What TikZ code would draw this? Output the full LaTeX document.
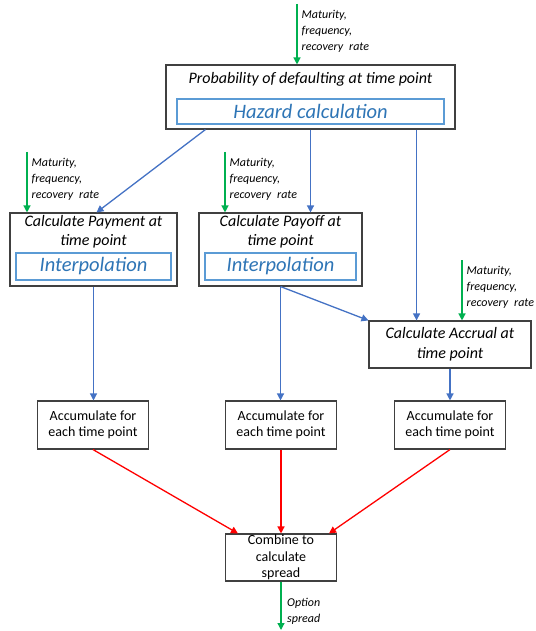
\documentclass[tikz,border=0pt]{standalone}
\usepackage{fontspec}
\setmainfont{Carlito}
\usepackage{tikz}
\usetikzlibrary{arrows.meta,positioning,calc}
\definecolor{cFlow}{HTML}{4472C4}
\definecolor{cIn}  {HTML}{00B050}
\definecolor{cSum} {HTML}{FF0000}
\definecolor{cSub} {HTML}{5B9BD5}
\definecolor{cSubT}{HTML}{2E75B6}
\definecolor{cEdge}{HTML}{404040}
\tikzset{
  box/.style ={draw=cEdge,line width=1.1pt,fill=white,align=center,inner sep=0pt},
  sub/.style ={draw=cSub,line width=1.1pt,inner sep=0pt,text=cSubT,
               font=\fontsize{20.5}{24}\selectfont\itshape},
  ttl/.style ={align=center,inner sep=0pt,font=\fontsize{16}{19}\selectfont\itshape},
  acc/.style ={box,minimum width=111pt,minimum height=48pt,
               font=\fontsize{14}{16.5}\selectfont},
  flow/.style={-{Triangle[length=7pt,width=7pt]},draw=cFlow,line width=1.3pt},
  feed/.style={flow,draw=cIn},
  sum/.style ={flow,draw=cSum},
  note/.style={font=\fontsize{12}{16}\selectfont\itshape,align=left,
               inner sep=0pt,anchor=north west},
}

\begin{document}
\begin{tikzpicture}[x=1pt,y=1pt]
\useasboundingbox (0,0) rectangle (535,-631);

% green model inputs: a short drop into the box, three-line note beside it
\newcommand{\feedin}[4]{%
  \coordinate (#1) at (#2,#3);
  \draw[feed] (#1) -- (#1 |- #4.north);
  \node[note] at ($(#1)+(4.5,-6)$) {Maturity,\\frequency,\\recovery\enspace rate};}

% calculation box with an interpolation sub-box inside
\newcommand{\calcbox}[4]{%
  \node[box,minimum width=#3,minimum height=73pt] (#1) at (#2,-249.5) {};
  \node[ttl] (#1T) at (#2,-231.5) {#4};
  \node[sub,minimum width=#3-12pt,minimum height=27pt] (#1I) at (#2,-266.5)
    {Interpolation};}

% ===== hazard block ======================================================
\node[box,minimum width=289pt,minimum height=64pt] (prob) at (310.5,-97) {};
\node[ttl] (probT) at (310.5,-79) {Probability of defaulting at time point};
\node[sub,minimum width=267pt,minimum height=25pt] (haz) at (310.5,-111.5)
  {Hazard calculation};
\feedin{in0}{297}{-4}{prob}

% ===== payment / payoff / accrual ========================================
\calcbox{pay}{93.5}{167pt}{Calculate Payment at\\time point}
\calcbox{payoff}{280.5}{163pt}{Calculate Payoff at\\time point}
\node[box,minimum width=162pt,minimum height=47pt,
      font=\fontsize{16}{20}\selectfont\itshape] (accr) at (450,-344.5)
  {Calculate Accrual at\\time point};

\feedin{in1}{27}{-152}{pay}
\feedin{in2}{225}{-152}{payoff}
\feedin{in3}{462}{-260}{accr}

\draw[flow] ([xshift=40pt]prob.south west) -- ([xshift=3pt]pay.north);
\draw[flow] (prob.south) -- (prob.south |- payoff.north);
\draw[flow] ([xshift=-39pt]prob.south east) -- ([xshift=-39pt]prob.south east |- accr.north);
\draw[flow] (payoff.south) -- (accr.north west);

% ===== accumulation ======================================================
\foreach \i/\x in {1/93,2/281,3/450}
  \node[acc] (acc\i) at (\x,-425) {Accumulate for\\each time point};

\draw[flow] (pay.south) -- (pay.south |- acc1.north);
\draw[flow] (payoff.south) -- (payoff.south |- acc2.north);
\draw[flow] (accr.south) -- (acc3.north);

% ===== spread ============================================================
\node[acc,minimum height=47pt] (comb) at (281,-557.5) {Combine to\\calculate\\spread};
\draw[sum] (acc1.south) -- ([xshift=13pt]comb.north west);
\draw[sum] (acc2.south) -- (comb.north);
\draw[sum] (acc3.south) -- ([xshift=-8pt]comb.north east);

\coordinate (out) at (281,-630);
\draw[feed] (comb.south) -- (out);
\node[note] (outT) at (287,-598) {Option\\spread};
\end{tikzpicture}
\end{document}
